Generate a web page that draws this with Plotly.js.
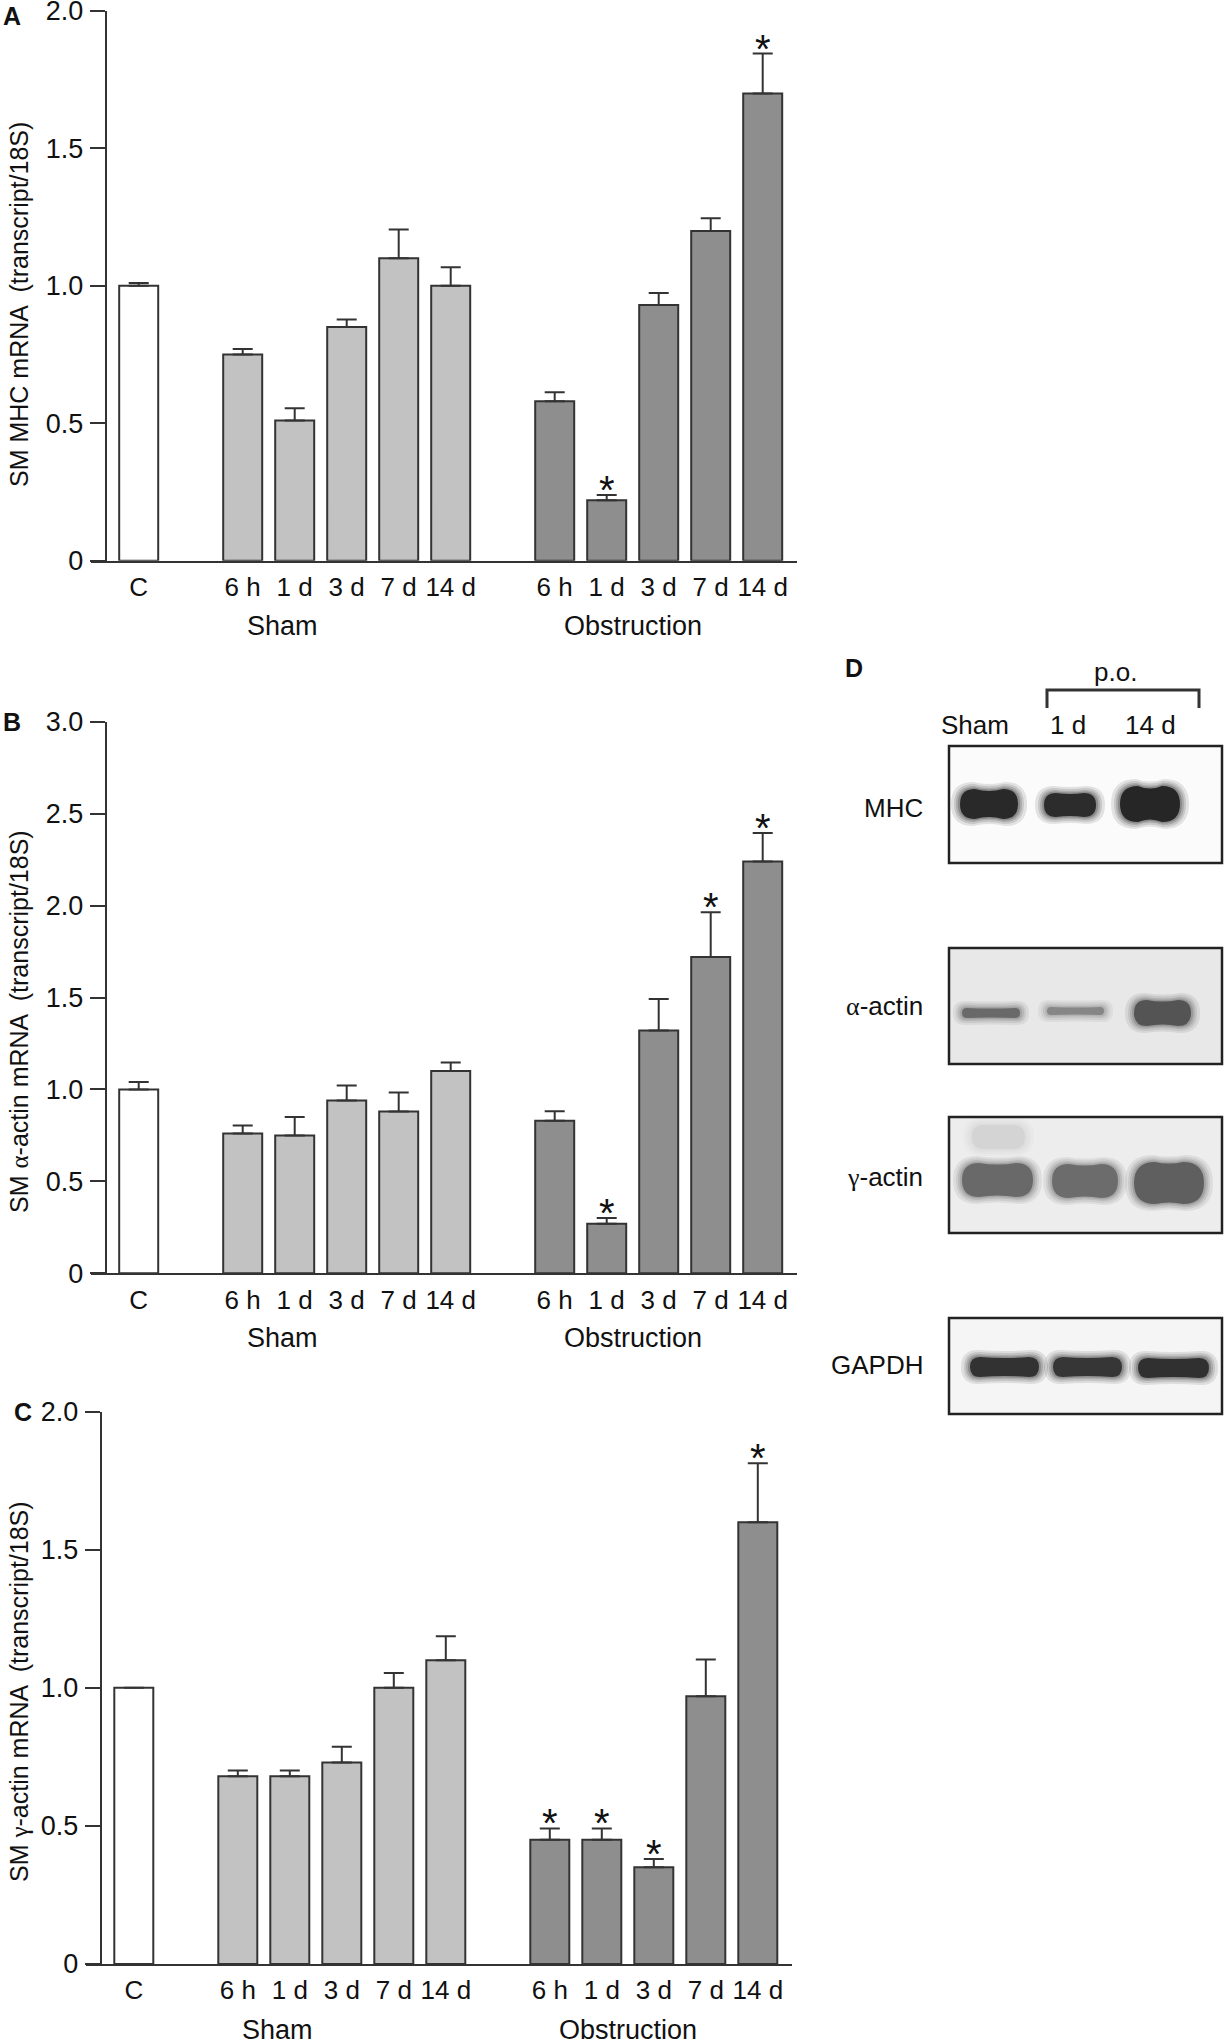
<!DOCTYPE html>
<html>
<head>
<meta charset="utf-8">
<script src="https://cdn.plot.ly/plotly-3.0.1.min.js"></script>
<style>
  body { margin: 0; background: #fff; }
  #chart { width: 1225px; height: 2040px; }
</style>
</head>
<body>
<div id="chart"></div>
<script>
// categories
const controlLabel = "C";
const timepoints = ["6 h", "1 d", "3 d", "7 d", "14 d"];
const groups = ["Sham", "Obstruction"];

// values: control, sham (5), obstruction (5)
const mhcMean = [1.00, 0.75, 0.51, 0.85, 1.10, 1.00, 0.58, 0.22, 0.93, 1.20, 1.70];
const mhcErr  = [0.01, 0.02, 0.045, 0.028, 0.105, 0.068, 0.033, 0.019, 0.044, 0.046, 0.145];
const mhcSig  = [0, 0, 0, 0, 0, 0, 0, 1, 0, 0, 1];

const alphaMean = [1.00, 0.76, 0.75, 0.94, 0.88, 1.10, 0.83, 0.27, 1.32, 1.72, 2.24];
const alphaErr  = [0.04, 0.044, 0.10, 0.082, 0.103, 0.046, 0.051, 0.031, 0.172, 0.244, 0.154];
const alphaSig  = [0, 0, 0, 0, 0, 0, 0, 1, 0, 1, 1];

const gammaMean = [1.00, 0.68, 0.68, 0.73, 1.00, 1.10, 0.45, 0.45, 0.35, 0.97, 1.60];
const gammaErr  = [0, 0.021, 0.021, 0.057, 0.054, 0.087, 0.041, 0.041, 0.03, 0.133, 0.213];
const gammaSig  = [0, 0, 0, 0, 0, 0, 1, 1, 1, 0, 1];

// y tick labels
const ticks2 = [0, 0.5, 1, 1.5, 2];
const ticks2Text = ["0", "0.5", "1.0", "1.5", "2.0"];
const ticks3 = [0, 0.5, 1, 1.5, 2, 2.5, 3];
const ticks3Text = ["0", "0.5", "1.0", "1.5", "2.0", "2.5", "3.0"];

// western blot (panel D)
const lanes = ["Sham", "1 d", "14 d"];
const blotRows = ["MHC", "<span style=\"font-family:'Liberation Serif'\">α</span>-actin",
                  "<span style=\"font-family:'Liberation Serif'\">γ</span>-actin", "GAPDH"];

const W = 1225, H = 2040;
const FONT = "Liberation Sans, Arial, Helvetica, sans-serif";
const px = x => x / W;
const py = y => 1 - y / H;

// bar positions: control, gap, sham group, gap, obstruction group
const xPos = [0];
groups.forEach((g, gi) => timepoints.forEach((t, ti) => xPos.push(2 + gi * (timepoints.length + 1) + ti)));
const xText = [controlLabel].concat(timepoints, timepoints);
const barColors = ["#ffffff"].concat(timepoints.map(() => "#c2c2c2"), timepoints.map(() => "#8e8e8e"));

let data = [];
let layout = {
  width: W, height: H,
  margin: { l: 0, r: 0, t: 0, b: 0 },
  paper_bgcolor: "#fff", plot_bgcolor: "rgba(0,0,0,0)",
  font: { family: FONT, color: "#111" },
  showlegend: false,
  annotations: [], shapes: []
};

function panel(n, mean, err, sig, yMax, tv, tt, g) {
  let xa = n === 1 ? "x" : "x" + n;
  let ya = n === 1 ? "y" : "y" + n;
  let pitch = 52;
  let pxPerUnit = (g.bottom - g.top) / yMax;

  data.push({
    type: "bar", x: xPos, y: mean, width: 0.75, xaxis: xa, yaxis: ya,
    marker: { color: barColors, line: { color: "#333", width: 2 } },
    error_y: { type: "data", symmetric: false, array: err, arrayminus: err.map(() => 0),
               color: "#333", thickness: 2, width: 10 },
    hoverinfo: "skip"
  });

  let sx = [], sy = [];
  sig.forEach((s, i) => { if (s) { sx.push(xPos[i]); sy.push(mean[i] + err[i] + 1 / pxPerUnit); } });
  data.push({
    type: "scatter", mode: "text", x: sx, y: sy, text: sx.map(() => "*"),
    textposition: "middle center", textfont: { size: 40, color: "#111", family: FONT },
    xaxis: xa, yaxis: ya, hoverinfo: "skip", cliponaxis: false
  });

  layout[n === 1 ? "xaxis" : "xaxis" + n] = {
    domain: [px(g.left), px(g.right)],
    range: [(g.left - g.c0) / pitch, (g.right - g.c0) / pitch],
    anchor: ya, showline: true, linecolor: "#333", linewidth: 2,
    ticks: "", tickvals: xPos, ticktext: xText, ticklabelstandoff: 2,
    tickfont: { size: 26, family: FONT, color: "#111" },
    showgrid: false, zeroline: false
  };
  layout[n === 1 ? "yaxis" : "yaxis" + n] = {
    domain: [py(g.bottom), py(g.top)], range: [0, yMax],
    anchor: "free", position: px(g.yLine),
    showline: true, linecolor: "#333", linewidth: 2,
    ticks: "outside", ticklen: 15, tickwidth: 2, tickcolor: "#333",
    tickvals: tv, ticktext: tt, ticklabelstandoff: 1, ticklabeloverflow: "allow",
    tickfont: { size: 27, family: FONT, color: "#111" },
    showgrid: false, zeroline: false
  };

  // group labels
  [[groups[0], 2.77], [groups[1], 9.5]].forEach(([txt, gx]) => {
    layout.annotations.push({ text: txt, x: gx, xref: xa, y: py(g.groupY), yref: "paper",
      showarrow: false, xanchor: "center", yanchor: "middle", font: { size: 27 } });
  });
  // y title
  layout.annotations.push({ text: g.title, textangle: -90, x: px(19), y: py(g.titleY),
    xref: "paper", yref: "paper", showarrow: false, xanchor: "center", yanchor: "middle",
    font: { size: 25 } });
  // panel letter
  layout.annotations.push({ text: "<b>" + g.letter + "</b>", x: px(g.letterX), y: py(g.letterY),
    xref: "paper", yref: "paper", showarrow: false, xanchor: "left", yanchor: g.letterAnchor || "middle",
    font: { size: 25 } });
}

panel(1, mhcMean, mhcErr, mhcSig, 2, ticks2, ticks2Text,
  { top: 11, bottom: 560.7, left: 90.7, right: 796.7, yLine: 105.7, c0: 138.7,
    groupY: 626, title: "SM MHC mRNA  (transcript/18S)", titleY: 305,
    letter: "A", letterX: 1, letterY: 0, letterAnchor: "top" });
panel(2, alphaMean, alphaErr, alphaSig, 3, ticks3, ticks3Text,
  { top: 721.7, bottom: 1273.3, left: 90.7, right: 796.7, yLine: 105.7, c0: 138.7,
    groupY: 1338, title: "SM <span style=\"font-family:'Liberation Serif'\">α</span>-actin mRNA  (transcript/18S)",
    titleY: 1022, letter: "B", letterX: 1, letterY: 722 });
panel(3, gammaMean, gammaErr, gammaSig, 2, ticks2, ticks2Text,
  { top: 1411.7, bottom: 1964, left: 86, right: 791.7, yLine: 100.7, c0: 133.8,
    groupY: 2030, title: "SM <span style=\"font-family:'Liberation Serif'\">γ</span>-actin mRNA  (transcript/18S)",
    titleY: 1692, letter: "C", letterX: 12, letterY: 1412 });

// ---- panel D: blot boxes and bands ----
function bandPath(x0, y0, x1, y1, pinch) {
  let r = Math.min((y1 - y0) / 2, (x1 - x0) / 2);
  let ym = (y0 + y1) / 2, xm = (x0 + x1) / 2;
  let P = (x, y) => px(x) + "," + py(y);
  return "M" + P(x0 + r, y0) + " Q" + P(xm, y0 + pinch) + " " + P(x1 - r, y0) +
         " Q" + P(x1, y0) + " " + P(x1, ym) + " Q" + P(x1, y1) + " " + P(x1 - r, y1) +
         " Q" + P(xm, y1 - pinch) + " " + P(x0 + r, y1) +
         " Q" + P(x0, y1) + " " + P(x0, ym) + " Q" + P(x0, y0) + " " + P(x0 + r, y0) + " Z";
}
function band(x0, x1, yc, h, color, pinch) {
  pinch = pinch || 0;
  [[9, 7, 0.1], [6, 5, 0.12], [4, 3, 0.15], [2, 1.5, 0.2], [0, 0, 0.75]].forEach(([dx, dy, op]) => {
    layout.shapes.push({ type: "path", xref: "paper", yref: "paper",
      path: bandPath(x0 - dx, yc - h / 2 - dy, x1 + dx, yc + h / 2 + dy, pinch),
      fillcolor: color, opacity: op, line: { width: 0 } });
  });
}

const boxL = 949, boxR = 1222;
const rowBoxes = [[746, 863, "#fbfbfb"], [948, 1064, "#e8e8e8"], [1117, 1233, "#ededed"], [1318, 1414, "#f5f5f5"]];
const rowLabelY = [808, 1006, 1177, 1365];
rowBoxes.forEach(([y0, y1, fill]) => {
  layout.shapes.push({ type: "rect", xref: "paper", yref: "paper",
    x0: px(boxL), x1: px(boxR), y0: py(y1), y1: py(y0),
    fillcolor: fill, line: { width: 0 } });
});

// MHC
band(960, 1018, 804, 30, "#080808", 4);
band(1044, 1096, 805, 24, "#0c0c0c", 2);
band(1120, 1180, 804, 36, "#050505", 5);
// alpha-actin
band(962, 1020, 1013, 10, "#555", 1);
band(1047, 1104, 1011, 8, "#777", 1);
band(1134, 1191, 1013, 26, "#3e3e3e", 3);
// gamma-actin
band(972, 1025, 1137, 24, "#d0d0d0");
band(962, 1033, 1180, 34, "#555", 3);
band(1052, 1118, 1181, 34, "#585858", 3);
band(1134, 1204, 1183, 42, "#4a4a4a", 3);
// GAPDH
band(970, 1039, 1367, 20, "#141414", 2);
band(1053, 1122, 1367, 20, "#181818", 2);
band(1138, 1209, 1368, 20, "#121212", 2);

// box outlines drawn over the bands
rowBoxes.forEach(([y0, y1], i) => {
  layout.shapes.push({ type: "rect", xref: "paper", yref: "paper",
    x0: px(boxL), x1: px(boxR), y0: py(y1), y1: py(y0),
    fillcolor: "rgba(0,0,0,0)", line: { color: "#222", width: 2.5 } });
  layout.annotations.push({ text: blotRows[i], x: px(925), y: py(rowLabelY[i]), xref: "paper", yref: "paper",
    showarrow: false, xanchor: "right", yanchor: "middle", font: { size: 26 } });
});

// p.o. bracket
layout.shapes.push({ type: "path", xref: "paper", yref: "paper",
  path: "M" + px(1047) + "," + py(708) + " L" + px(1047) + "," + py(690) + " L" + px(1199) + "," + py(690) + " L" + px(1199) + "," + py(708),
  line: { color: "#333", width: 3 } });
layout.annotations.push({ text: "p.o.", x: px(1115), y: py(672), xref: "paper", yref: "paper",
  showarrow: false, xanchor: "center", yanchor: "middle", font: { size: 26 } });
const laneX = [975, 1068, 1150];
lanes.forEach((l, i) => layout.annotations.push({ text: l, x: px(laneX[i]), y: py(725),
  xref: "paper", yref: "paper", showarrow: false, xanchor: "center", yanchor: "middle", font: { size: 26 } }));
layout.annotations.push({ text: "<b>D</b>", x: px(843), y: py(668), xref: "paper", yref: "paper",
  showarrow: false, xanchor: "left", yanchor: "middle", font: { size: 25 } });

Plotly.newPlot("chart", data, layout, { staticPlot: true });
</script>
</body>
</html>
